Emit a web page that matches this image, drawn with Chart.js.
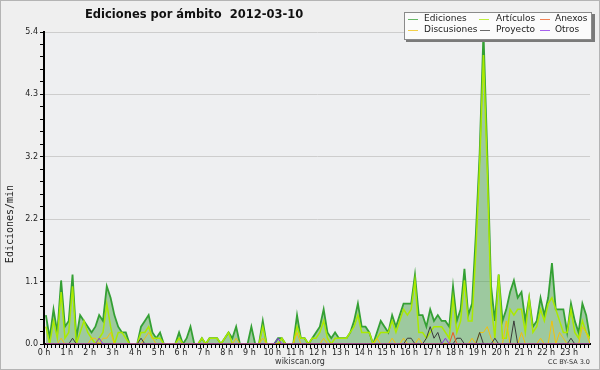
<!DOCTYPE html>
<html>
<head>
<meta charset="utf-8">
<script src="https://cdn.jsdelivr.net/npm/chart.js@4.4.1/dist/chart.umd.min.js"></script>
<style>
  html, body { margin: 0; padding: 0; background: #efefef; }
  #wrap { width: 600px; height: 370px; }
</style>
</head>
<body>
<div id="wrap"><canvas id="chart" width="600" height="370"></canvas></div>
<script>
const TITLE = "Ediciones por ámbito  2012-03-10";
const Y_TITLE = "Ediciones/min";
const FOOTER = "wikiscan.org";
const LICENSE = "CC BY-SA 3.0";

const hourLabels = [
  "0 h", "1 h", "2 h", "3 h", "4 h", "5 h", "6 h", "7 h", "8 h", "9 h", "10 h", "11 h",
  "12 h", "13 h", "14 h", "15 h", "16 h", "17 h", "18 h", "19 h", "20 h", "21 h", "22 h", "23 h",
];
const yTickLabels = ["0.0", "1.1", "2.2", "3.2", "4.3", "5.4"];
const Y_MAX = 5.4;

// one value per 10 minutes, edits per minute (two hours per line)
const ediciones = [
  0.5, 0.1, 0.6, 0.2, 1.1, 0.3, 0.4, 1.2, 0.1, 0.5, 0.4, 0.3,
  0.2, 0.3, 0.5, 0.4, 1.0, 0.8, 0.5, 0.3, 0.2, 0.2, 0, 0,
  0, 0.3, 0.4, 0.5, 0.2, 0.1, 0.2, 0, 0, 0, 0, 0.2,
  0, 0.1, 0.3, 0, 0, 0.1, 0, 0.1, 0.1, 0.1, 0, 0.1,
  0.2, 0.1, 0.3, 0, 0, 0, 0.3, 0, 0, 0.4, 0, 0,
  0, 0.1, 0.1, 0, 0, 0, 0.5, 0.1, 0.1, 0, 0.1, 0.2,
  0.3, 0.6, 0.2, 0.1, 0.2, 0.1, 0.1, 0.1, 0.2, 0.4, 0.7, 0.3,
  0.3, 0.2, 0, 0.2, 0.4, 0.3, 0.2, 0.5, 0.3, 0.5, 0.7, 0.7,
  0.7, 1.2, 0.5, 0.5, 0.3, 0.6, 0.4, 0.5, 0.4, 0.4, 0.3, 1.0,
  0.4, 0.6, 1.3, 0.5, 0.7, 1.9, 3.3, 5.4, 3.3, 1.0, 0.4, 1.2,
  0.4, 0.6, 0.9, 1.1, 0.8, 0.9, 0.4, 0.8, 0.3, 0.4, 0.8, 0.5,
  0.8, 1.4, 0.6, 0.6, 0.6, 0.2, 0.7, 0.4, 0.2, 0.7, 0.5, 0.1,
];
const articulos = [
  0.3, 0, 0.4, 0.1, 0.9, 0.1, 0.2, 1.0, 0, 0.2, 0.4, 0.2,
  0.1, 0, 0.1, 0.2, 0.7, 0.3, 0, 0.2, 0.2, 0.1, 0, 0,
  0, 0.2, 0.2, 0.3, 0.1, 0.1, 0.1, 0, 0, 0, 0, 0.1,
  0, 0, 0, 0, 0, 0.1, 0, 0.1, 0.1, 0.1, 0, 0.1,
  0.2, 0, 0, 0, 0, 0, 0, 0, 0, 0.3, 0, 0,
  0, 0, 0.1, 0, 0, 0, 0.3, 0.1, 0.1, 0, 0.1, 0.1,
  0.2, 0.4, 0.1, 0, 0.1, 0.1, 0.1, 0.1, 0.2, 0.3, 0.5, 0.2,
  0.2, 0.2, 0, 0.1, 0.2, 0.2, 0.2, 0.4, 0.2, 0.4, 0.6, 0.5,
  0.6, 1.1, 0.2, 0.2, 0.1, 0.2, 0.3, 0.3, 0.3, 0.2, 0.1, 0.8,
  0.2, 0.4, 1.1, 0.4, 0.4, 1.6, 3.1, 5.0, 3.0, 0.7, 0.1, 1.2,
  0.1, 0.1, 0.6, 0.5, 0.6, 0.6, 0.2, 0.8, 0.2, 0.3, 0.6, 0.4,
  0.7, 0.8, 0.6, 0.4, 0.2, 0.2, 0.6, 0.2, 0.1, 0.4, 0.2, 0.1,
];
const discusiones = [
  0, 0, 0, 0, 0.1, 0, 0, 0, 0, 0, 0, 0,
  0.1, 0.1, 0, 0.1, 0.1, 0.2, 0, 0, 0, 0, 0, 0,
  0, 0, 0.1, 0.2, 0.1, 0, 0, 0, 0, 0, 0, 0,
  0, 0, 0, 0, 0, 0, 0, 0, 0, 0, 0, 0,
  0, 0, 0.1, 0, 0, 0, 0, 0, 0, 0.1, 0, 0,
  0, 0, 0, 0, 0, 0, 0.2, 0, 0, 0, 0, 0,
  0, 0.1, 0, 0, 0, 0, 0, 0, 0, 0, 0, 0,
  0, 0, 0, 0.1, 0, 0, 0, 0.1, 0, 0, 0.1, 0,
  0, 0, 0.1, 0, 0, 0, 0, 0, 0, 0, 0, 0,
  0, 0, 0, 0, 0.1, 0, 0.2, 0.2, 0.3, 0.1, 0, 0,
  0, 0.4, 0, 0, 0, 0.2, 0, 0, 0, 0, 0.1, 0,
  0, 0.4, 0, 0.2, 0.1, 0, 0, 0, 0, 0.3, 0.2, 0,
];
const proyecto = [
  0, 0, 0, 0, 0, 0, 0, 0.1, 0, 0, 0, 0,
  0, 0, 0, 0, 0, 0, 0, 0, 0, 0, 0, 0,
  0, 0.1, 0, 0, 0, 0, 0, 0, 0, 0, 0, 0,
  0, 0, 0, 0, 0, 0, 0, 0, 0, 0, 0, 0,
  0, 0, 0, 0, 0, 0, 0, 0, 0, 0, 0, 0,
  0, 0, 0, 0, 0, 0, 0, 0, 0, 0, 0, 0,
  0, 0, 0, 0, 0, 0, 0, 0, 0, 0, 0, 0,
  0, 0, 0, 0, 0, 0, 0, 0, 0, 0, 0, 0.1,
  0.1, 0, 0, 0, 0.1, 0.3, 0.1, 0.2, 0, 0, 0, 0,
  0.1, 0.1, 0, 0, 0, 0, 0.2, 0, 0, 0, 0.1, 0,
  0, 0, 0, 0.4, 0, 0, 0, 0, 0, 0, 0, 0,
  0, 0, 0, 0, 0, 0, 0.1, 0, 0, 0, 0, 0,
];
const anexos = [
  0, 0, 0, 0, 0, 0, 0, 0, 0, 0, 0, 0,
  0, 0, 0, 0, 0, 0, 0, 0, 0, 0, 0, 0,
  0, 0, 0, 0, 0, 0, 0, 0, 0, 0, 0, 0,
  0, 0, 0, 0, 0, 0, 0, 0, 0, 0, 0, 0,
  0, 0, 0, 0, 0, 0, 0, 0, 0, 0, 0, 0,
  0, 0, 0, 0, 0, 0, 0, 0, 0, 0, 0, 0,
  0, 0, 0, 0, 0, 0, 0, 0, 0, 0, 0, 0,
  0, 0, 0, 0, 0, 0, 0, 0, 0, 0, 0, 0,
  0, 0, 0, 0, 0, 0, 0, 0, 0, 0, 0, 0.2,
  0, 0, 0, 0, 0, 0, 0, 0, 0, 0, 0, 0,
  0, 0, 0, 0, 0, 0, 0, 0, 0, 0, 0, 0,
  0, 0, 0, 0, 0, 0, 0, 0, 0, 0, 0, 0,
];
const otros = [
  0, 0, 0, 0, 0, 0, 0, 0, 0, 0, 0, 0,
  0, 0, 0.1, 0, 0, 0, 0, 0, 0, 0, 0, 0,
  0, 0, 0, 0, 0, 0, 0, 0, 0, 0, 0, 0,
  0, 0, 0, 0, 0, 0, 0, 0, 0, 0, 0, 0,
  0, 0, 0, 0, 0, 0, 0, 0, 0, 0, 0, 0,
  0, 0.1, 0, 0, 0, 0, 0, 0, 0, 0, 0, 0,
  0, 0, 0, 0, 0, 0, 0, 0, 0, 0, 0, 0,
  0, 0, 0, 0, 0, 0, 0, 0, 0, 0, 0, 0,
  0, 0, 0, 0, 0, 0, 0, 0, 0, 0.1, 0, 0,
  0, 0, 0, 0, 0, 0, 0, 0, 0, 0, 0, 0,
  0, 0, 0, 0, 0, 0, 0, 0, 0, 0, 0, 0,
  0, 0, 0, 0, 0, 0, 0, 0, 0, 0, 0, 0,
];

// each value sits in the middle of its 10 minute slot
const SLOT = 10;
const slotMinutes = ediciones.map((_, i) => i * SLOT + SLOT / 2);
const toPoints = (values) => values.map((v, i) => ({ x: slotMinutes[i], y: v }));

// legend slots: [sample x, text x, row y]
const LEGEND_POS = {
  "Ediciones": [408, 424, 19],
  "Artículos": [479, 496, 19],
  "Anexos": [540, 555, 19],
  "Discusiones": [408, 424, 30],
  "Proyecto": [480, 496, 30],
  "Otros": [540, 555, 30],
};

function lineSet(label, values, color, width, order) {
  return {
    label,
    data: toPoints(values),
    borderColor: color,
    borderWidth: width,
    pointRadius: 0,
    tension: 0,
    fill: false,
    order,
  };
}

const frame = {
  id: "frame",
  beforeDraw(chart) {
    const { ctx, chartArea: a } = chart;
    ctx.save();
    ctx.fillStyle = "#efefef";
    ctx.fillRect(0, 0, chart.width, chart.height);
    ctx.fillStyle = "#eeeff1";
    ctx.fillRect(a.left, a.top, a.right - a.left, a.bottom - a.top);
    ctx.strokeStyle = "#b4b4b4";
    ctx.lineWidth = 1;
    ctx.strokeRect(0.5, 0.5, chart.width - 1, chart.height - 1);
    ctx.restore();
  },
  afterDraw(chart) {
    const ctx = chart.ctx;
    ctx.save();
    ctx.fillStyle = "#111";
    ctx.font = 'bold 11.5px "DejaVu Sans"';
    ctx.textBaseline = "alphabetic";
    ctx.fillText(TITLE, 85, 18);

    // y axis title
    ctx.save();
    ctx.translate(13, 224);
    ctx.rotate(-Math.PI / 2);
    ctx.font = '10px "DejaVu Sans Mono"';
    ctx.textAlign = "center";
    ctx.fillStyle = "#222";
    ctx.fillText(Y_TITLE, 0, 0);
    ctx.restore();

    // legend box
    ctx.fillStyle = "#7a7a7a";
    ctx.fillRect(406, 14, 189, 28);
    ctx.fillStyle = "#fbfbfb";
    ctx.fillRect(404, 12, 188, 28);
    ctx.strokeStyle = "#8a8a8a";
    ctx.lineWidth = 1;
    ctx.strokeRect(404.5, 12.5, 187, 27);

    ctx.font = '9px "DejaVu Sans"';
    ctx.textBaseline = "middle";
    chart.data.datasets.forEach((ds) => {
      const [sx, tx, y] = LEGEND_POS[ds.label];
      ctx.strokeStyle = ds.borderColor;
      ctx.globalAlpha = 0.75;
      ctx.beginPath();
      ctx.moveTo(sx, y + 0.5);
      ctx.lineTo(sx + 10, y + 0.5);
      ctx.stroke();
      ctx.globalAlpha = 1;
      ctx.fillStyle = "#222";
      ctx.fillText(ds.label, tx, y);
    });

    ctx.textBaseline = "alphabetic";
    ctx.font = '8px "DejaVu Sans"';
    ctx.textAlign = "center";
    ctx.fillStyle = "#333";
    ctx.fillText(FOOTER, 300, 364);
    ctx.font = '6.5px "DejaVu Sans"';
    ctx.textAlign = "right";
    ctx.fillText(LICENSE, 590, 364);
    ctx.restore();
  },
};

Chart.defaults.font.family = '"DejaVu Sans"';
Chart.defaults.color = "#222";

new Chart(document.getElementById("chart"), {
  type: "line",
  data: {
    datasets: [
      Object.assign(lineSet("Ediciones", ediciones, "#34a034", 1.8, 10), {
        fill: "origin",
        backgroundColor: "rgba(66, 160, 66, 0.47)",
      }),
      lineSet("Artículos", articulos, "#aaea00", 1.5, 6),
      lineSet("Anexos", anexos, "#ee5a1e", 1, 2),
      lineSet("Discusiones", discusiones, "#f2c20c", 1, 5),
      lineSet("Proyecto", proyecto, "#3a3a3a", 1, 4),
      lineSet("Otros", otros, "#8a2ee8", 1, 1),
    ],
  },
  options: {
    responsive: false,
    devicePixelRatio: 1,
    animation: false,
    events: [],
    layout: { padding: { top: 32, right: 10, left: 0, bottom: 0 } },
    plugins: { legend: { display: false }, tooltip: { enabled: false }, title: { display: false } },
    scales: {
      x: {
        type: "linear",
        min: 0,
        max: 1435,
        z: 1,
        afterBuildTicks(scale) {
          const ticks = [];
          for (let m = 0; m < 1440; m += SLOT) ticks.push({ value: m });
          scale.ticks = ticks;
        },
        afterFit(scale) { scale.height = 26; },
        grid: { drawOnChartArea: false, color: "#000", tickLength: 4, lineWidth: 1 },
        border: { color: "#000", width: 2 },
        ticks: {
          autoSkip: false,
          maxRotation: 0,
          minRotation: 0,
          padding: 0,
          font: { size: 8 },
          callback: (v) => (v % 60 === 0 ? hourLabels[v / 60] : ""),
        },
      },
      y: {
        min: 0,
        max: Y_MAX,
        afterBuildTicks(scale) {
          const step = Y_MAX / (yTickLabels.length - 1) / 5;
          const ticks = [];
          for (let k = 0; k <= (yTickLabels.length - 1) * 5; k++) ticks.push({ value: k * step });
          scale.ticks = ticks;
        },
        afterFit(scale) { scale.width = 44; },
        grid: {
          color: (c) => (c.index % 5 === 0 ? "#cdcdcd" : "rgba(0,0,0,0)"),
          tickColor: "#000",
          tickLength: 4,
          lineWidth: 1,
        },
        border: { color: "#000", width: 2 },
        ticks: {
          autoSkip: false,
          padding: 2,
          font: { size: 8 },
          callback: (v, i) => (i % 5 === 0 ? yTickLabels[i / 5] : ""),
        },
      },
    },
  },
  plugins: [frame],
});
</script>
</body>
</html>
